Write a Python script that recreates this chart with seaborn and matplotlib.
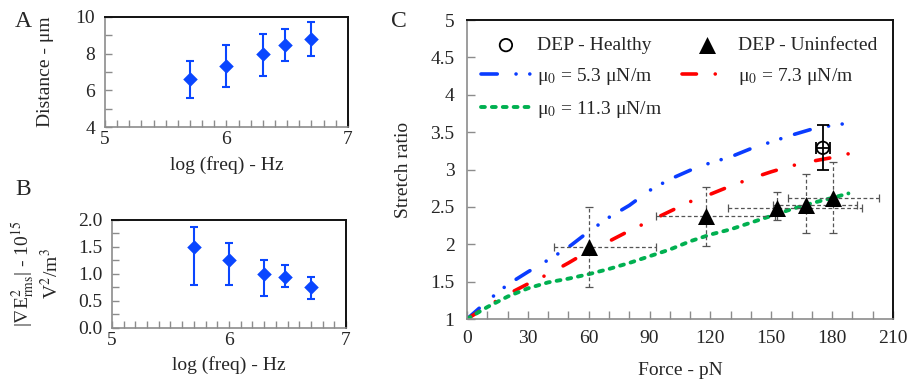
import numpy as np
import pandas as pd
import matplotlib
matplotlib.use("Agg")
import matplotlib.pyplot as plt
from matplotlib.ticker import MultipleLocator, FormatStrFormatter
import seaborn as sns

# ---- panel A / B : frequency sweep ----
log_freq = [5.7, 6.0, 6.3, 6.48, 6.7]
distance = [6.6, 7.35, 8.0, 8.5, 8.8]
distance_lo = [5.6, 6.2, 6.8, 7.6, 7.9]
distance_hi = [7.6, 8.45, 9.1, 9.35, 9.7]
grad_e2 = [1.5, 1.25, 1.0, 0.95, 0.76]
grad_e2_lo = [0.8, 0.8, 0.6, 0.75, 0.53]
grad_e2_hi = [1.87, 1.57, 1.25, 1.16, 0.94]

# ---- panel C : stretch ratio vs force ----
force_model = [0, 10, 20, 30, 40, 50, 60, 70, 80, 90, 100, 110, 120, 130, 140, 150, 160, 170, 180, 188]
stretch_mu53 = [1.0, 1.24, 1.46, 1.63, 1.79, 1.96, 2.17, 2.36, 2.52, 2.72, 2.87, 2.99, 3.09, 3.17, 3.28, 3.37, 3.46, 3.54, 3.59, 3.62]
stretch_mu73 = [1.0, 1.17, 1.33, 1.47, 1.60, 1.75, 1.91, 2.04, 2.18, 2.31, 2.44, 2.57, 2.67, 2.78, 2.88, 2.97, 3.05, 3.11, 3.16, 3.21]
stretch_mu113 = [1.0, 1.16, 1.30, 1.41, 1.49, 1.54, 1.60, 1.67, 1.75, 1.84, 1.93, 2.04, 2.13, 2.20, 2.29, 2.38, 2.47, 2.55, 2.62, 2.68]

uninf_force = [60, 118, 153, 167, 180.5]
uninf_stretch = [1.97, 2.38, 2.49, 2.53, 2.62]
uninf_force_lo = [43, 93, 128.5, 151, 158]
uninf_force_hi = [93, 152, 194.5, 192, 203]
uninf_stretch_lo = [1.43, 1.98, 2.32, 2.15, 2.15]
uninf_stretch_hi = [2.5, 2.77, 2.70, 2.94, 3.10]

healthy_force = [175.4]
healthy_stretch = [3.29]
healthy_force_lo = [172.1]
healthy_force_hi = [178.7]
healthy_stretch_lo = [2.99]
healthy_stretch_hi = [3.59]

sns.set_theme(style="ticks")
plt.rcParams["font.family"] = ["Liberation Serif", "DejaVu Serif"]
plt.rcParams["mathtext.fontset"] = "stix"

FS = 14
grey = "#8c8c8c"
blue_pt = "#0a46ff"

fig = plt.figure(figsize=(9.12, 3.82), dpi=100)
axA = fig.add_axes([0.1151, 0.6675, 0.2664, 0.2880])
axB = fig.add_axes([0.1228, 0.1414, 0.2566, 0.2827])
axC = fig.add_axes([0.5121, 0.1649, 0.4671, 0.7827])


def style_axes(ax):
    for s in ["left", "bottom"]:
        ax.spines[s].set_color(grey)
        ax.spines[s].set_linewidth(1.2)
    for s in ["top", "right"]:
        ax.spines[s].set_color("#111111")
        ax.spines[s].set_linewidth(1.4)
    ax.tick_params(which="both", direction="in", color=grey, width=1,
                   labelsize=FS, top=False, right=False)
    ax.tick_params(which="major", length=5)
    ax.tick_params(which="minor", length=5)


def freq_panel(ax, y, lo, hi):
    yerr = [np.array(y) - np.array(lo), np.array(hi) - np.array(y)]
    ax.errorbar(log_freq, y, yerr=yerr, fmt="none", ecolor=blue_pt,
                elinewidth=1.5, capsize=3, capthick=1.5, zorder=2)
    sns.scatterplot(x=log_freq, y=y, ax=ax, marker="D", s=55, color=blue_pt,
                    edgecolor=blue_pt, linewidth=0, zorder=3)
    ax.set_xlim(5, 7)
    ax.xaxis.set_major_locator(MultipleLocator(1))
    ax.xaxis.set_minor_locator(MultipleLocator(0.1))
    ax.set_xlabel("log (freq) - Hz", fontsize=FS)
    style_axes(ax)
    ax.tick_params(axis="y", pad=7)
    ax.tick_params(axis="x", pad=3)


# panel A
freq_panel(axA, distance, distance_lo, distance_hi)
axA.set_ylim(4, 10)
axA.yaxis.set_major_locator(MultipleLocator(2))
axA.yaxis.set_minor_locator(MultipleLocator(1))
axA.set_ylabel("Distance - μm", fontsize=FS)
axA.yaxis.set_label_coords(-0.21, 0.5)
axA.xaxis.set_label_coords(0.5, -0.26)

# panel B
freq_panel(axB, grad_e2, grad_e2_lo, grad_e2_hi)
axB.set_ylim(0, 2)
axB.yaxis.set_major_locator(MultipleLocator(0.5))
axB.yaxis.set_minor_locator(MultipleLocator(0.25))
axB.yaxis.set_major_formatter(FormatStrFormatter("%.1f"))
axB.set_ylabel("|$\\nabla$E$^2_{\\rm rms}$| - 10$^{15}$\nV$^2$/m$^3$",
               fontsize=FS, linespacing=1.15)
axB.yaxis.set_label_coords(-0.215, 0.5)
axB.xaxis.set_label_coords(0.5, -0.26)

# panel C - model curves
sns.lineplot(x=force_model, y=stretch_mu53, ax=axC, color="#0a3cff", lw=2.6,
             linestyle=(0, (4.5, 5.2, 0.01, 3.8, 0.01, 4.0)),
             dash_capstyle="round",
             label="μ$_0$ = 5.3 μN/m", zorder=2)
sns.lineplot(x=force_model, y=stretch_mu73, ax=axC, color="#ff0000", lw=2.6,
             linestyle=(0, (4.0, 5.2, 0.01, 6.0)),
             dash_capstyle="round",
             label="μ$_0$ = 7.3 μN/m", zorder=2)
sns.lineplot(x=force_model, y=stretch_mu113, ax=axC, color="#00b050", lw=2.8,
             linestyle=(0, (1.0, 1.8)),
             dash_capstyle="round",
             label="μ$_0$ = 11.3 μN/m", zorder=2)

# panel C - measurements
ux = np.array(uninf_force)
uy = np.array(uninf_stretch)
eb = axC.errorbar(ux, uy,
                  xerr=[ux - np.array(uninf_force_lo), np.array(uninf_force_hi) - ux],
                  yerr=[uy - np.array(uninf_stretch_lo), np.array(uninf_stretch_hi) - uy],
                  fmt="none", ecolor="#555555", elinewidth=0.9, capsize=3,
                  capthick=0.9, zorder=3)
for lc in eb[2]:
    lc.set_linestyle((0, (3, 2)))
sns.scatterplot(x=uninf_force, y=uninf_stretch, ax=axC, marker="^", s=150,
                color="black", linewidth=0, label="DEP - Uninfected", zorder=4)

hx = np.array(healthy_force)
hy = np.array(healthy_stretch)
sns.scatterplot(x=healthy_force, y=healthy_stretch, ax=axC, marker="o", s=80,
                facecolor="none", edgecolor="black", linewidth=1.3,
                label="DEP - Healthy", zorder=4)
axC.errorbar(hx, hy,
             xerr=[hx - np.array(healthy_force_lo), np.array(healthy_force_hi) - hx],
             yerr=[hy - np.array(healthy_stretch_lo), np.array(healthy_stretch_hi) - hy],
             fmt="none", ecolor="black", elinewidth=1.3, capsize=4,
             capthick=1.3, zorder=5)

axC.set_xlim(0, 210)
axC.set_ylim(1, 5)
axC.xaxis.set_major_locator(MultipleLocator(30))
axC.xaxis.set_minor_locator(MultipleLocator(10))
axC.yaxis.set_major_locator(MultipleLocator(0.5))
axC.yaxis.set_major_formatter(plt.FuncFormatter(lambda v, p: f"{v:g}"))
style_axes(axC)
axC.tick_params(which="both", length=6)
axC.tick_params(axis="y", pad=9)
axC.tick_params(axis="x", pad=8)
axC.set_xlabel("Force - pN", fontsize=FS)
axC.set_ylabel("Stretch ratio", fontsize=FS)
axC.yaxis.set_label_coords(-0.13, 0.5)
axC.xaxis.set_label_coords(0.5, -0.145)

handles, labels = axC.get_legend_handles_labels()
hmap = dict(zip(labels, handles))
order = ["DEP - Healthy", "μ$_0$ = 5.3 μN/m", "μ$_0$ = 11.3 μN/m",
         "DEP - Uninfected", "μ$_0$ = 7.3 μN/m"]
axC.legend([hmap[k] for k in order], order, loc="upper left", ncol=2,
           frameon=False, fontsize=FS, handlelength=2.6, labelspacing=0.6,
           columnspacing=1.0, handletextpad=0.3, borderaxespad=0.3,
           bbox_to_anchor=(0.0, 0.99))

fig.text(0.025, 0.945, "A", fontsize=17, va="center", ha="center")
fig.text(0.025, 0.505, "B", fontsize=17, va="center", ha="center")
fig.text(0.437, 0.945, "C", fontsize=17, va="center", ha="center")

fig.savefig("out.png", dpi=100)
